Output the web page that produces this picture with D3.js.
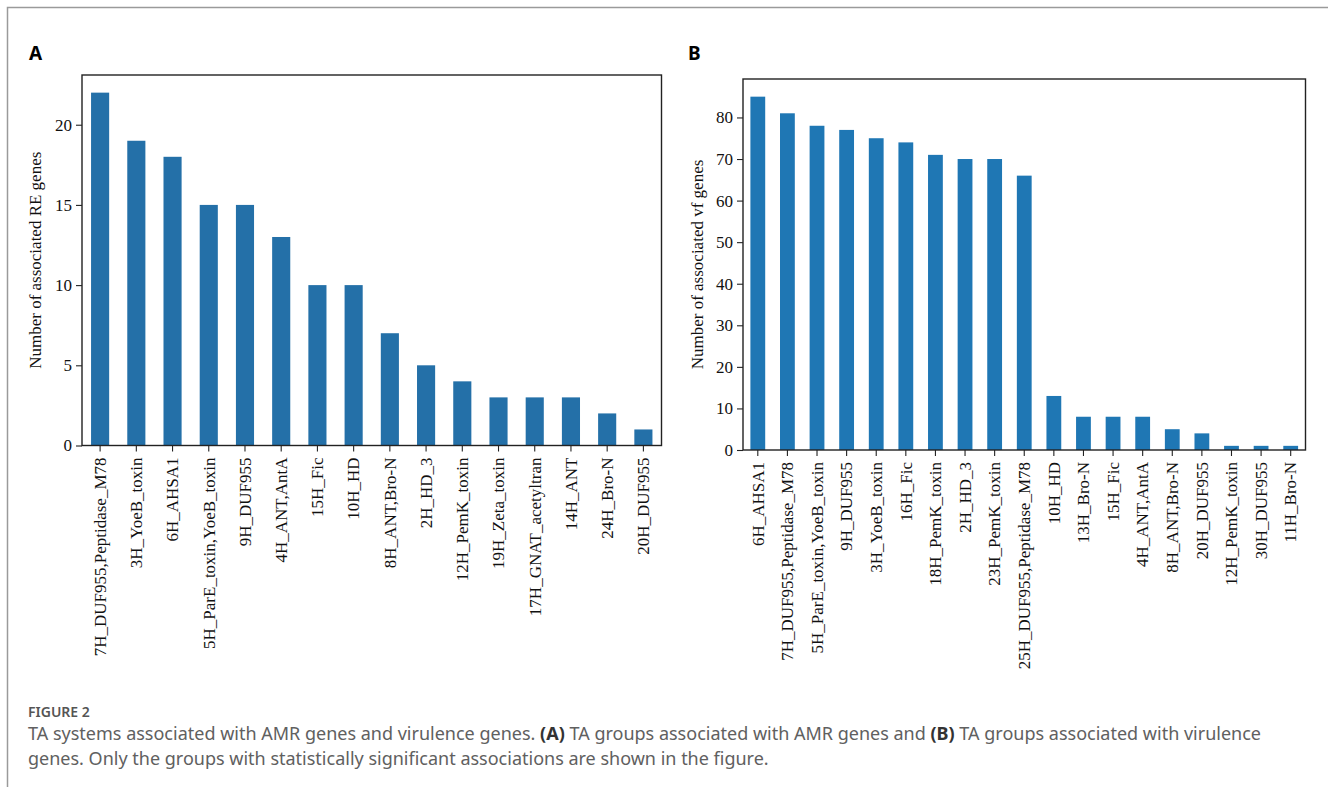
<!DOCTYPE html>
<html>
<head>
<meta charset="utf-8">
<script src="https://cdn.jsdelivr.net/npm/d3@7"></script>
<style>
  body { margin: 0; background: #fff; }
  svg { display: block; }
  .tick text { font-family: "Liberation Serif", "Times New Roman", serif; fill: #111; }
</style>
</head>
<body>
<svg id="fig" width="1328" height="787"></svg>
<script>
// Panel A: TA groups vs antibiotic resistance genes
const groupsA = [
  "7H_DUF955,Peptidase_M78", "3H_YoeB_toxin", "6H_AHSA1", "5H_ParE_toxin,YoeB_toxin",
  "9H_DUF955", "4H_ANT,AntA", "15H_Fic", "10H_HD", "8H_ANT,Bro-N", "2H_HD_3",
  "12H_PemK_toxin", "19H_Zeta_toxin", "17H_GNAT_acetyltran", "14H_ANT", "24H_Bro-N", "20H_DUF955"
];
const countsA = [22, 19, 18, 15, 15, 13, 10, 10, 7, 5, 4, 3, 3, 3, 2, 1];
const ticksA = [0, 5, 10, 15, 20];

// Panel B: TA groups vs virulence factor genes
const groupsB = [
  "6H_AHSA1", "7H_DUF955,Peptidase_M78", "5H_ParE_toxin,YoeB_toxin", "9H_DUF955",
  "3H_YoeB_toxin", "16H_Fic", "18H_PemK_toxin", "2H_HD_3", "23H_PemK_toxin",
  "25H_DUF955,Peptidase_M78", "10H_HD", "13H_Bro-N", "15H_Fic", "4H_ANT,AntA",
  "8H_ANT,Bro-N", "20H_DUF955", "12H_PemK_toxin", "30H_DUF955", "11H_Bro-N"
];
const countsB = [85, 81, 78, 77, 75, 74, 71, 70, 70, 66, 13, 8, 8, 8, 5, 4, 1, 1, 1];
const ticksB = [0, 10, 20, 30, 40, 50, 60, 70, 80];

const svg = d3.select("#fig");
const SERIF = '"Liberation Serif", "Times New Roman", serif';
const SANS = '"Noto Sans", "Open Sans", sans-serif';
const FS = "17px";

// outer page frame (only left + top visible)
svg.append("path")
  .attr("d", "M7.5,787 L7.5,7.5 L1328,7.5")
  .attr("fill", "none")
  .attr("stroke", "#9a9a9a")
  .attr("stroke-width", 1.5);

/**
 * Draws one pandas-style bar panel
 */
function drawPanel(cfg) {
  const { x0, x1, y0, y1, groups, counts, ticks, color, ylabel, letter, letterX, ylabelX } = cfg;

  const x = d3.scaleBand()
    .domain(groups)
    .range([x0, x1])
    .paddingInner(0.5)
    .paddingOuter(0.25);

  const y = d3.scaleLinear()
    .domain([0, d3.max(counts) * 1.05])
    .range([y1, y0]);

  const g = svg.append("g");

  g.selectAll("rect.bar")
    .data(groups)
    .join("rect")
    .attr("class", "bar")
    .attr("x", d => x(d))
    .attr("width", x.bandwidth())
    .attr("y", (d, i) => y(counts[i]))
    .attr("height", (d, i) => y(0) - y(counts[i]))
    .attr("fill", color);

  // y axis
  const ay = g.append("g")
    .attr("transform", `translate(${x0},0)`)
    .call(d3.axisLeft(y).tickValues(ticks).tickSize(6).tickPadding(4).tickFormat(d3.format("d")));
  ay.select(".domain").remove();
  ay.selectAll("text").style("font-size", FS);
  ay.selectAll("line").attr("stroke", "#222").attr("stroke-width", 1.1);

  // x axis, labels rotated
  const ax = g.append("g")
    .attr("transform", `translate(0,${y1})`)
    .call(d3.axisBottom(x).tickSize(6).tickPadding(0));
  ax.select(".domain").remove();
  ax.selectAll("line").attr("stroke", "#222").attr("stroke-width", 1.1);
  ax.selectAll("text")
    .style("font-size", FS)
    .attr("text-anchor", "end")
    .attr("transform", "rotate(-90)")
    .attr("x", -12)
    .attr("y", 0)
    .attr("dy", "0.34em");

  // frame
  g.append("rect")
    .attr("x", x0).attr("y", y0)
    .attr("width", x1 - x0).attr("height", y1 - y0)
    .attr("fill", "none")
    .attr("stroke", "#222")
    .attr("stroke-width", 1.4);

  // y label
  g.append("text")
    .attr("transform", `translate(${ylabelX},${(y0 + y1) / 2}) rotate(-90)`)
    .attr("text-anchor", "middle")
    .style("font-family", SERIF)
    .style("font-size", FS)
    .attr("fill", "#111")
    .text(ylabel);

  // panel letter
  g.append("text")
    .attr("x", letterX).attr("y", 60)
    .style("font-family", SANS)
    .style("font-weight", "700")
    .style("font-size", "19px")
    .attr("fill", "#000")
    .text(letter);
}

drawPanel({
  x0: 82, x1: 661.5, y0: 75, y1: 445.5,
  groups: groupsA, counts: countsA, ticks: ticksA,
  color: "#2470a8",
  ylabel: "Number of associated RE genes",
  letter: "A", letterX: 29, ylabelX: 41
});

drawPanel({
  x0: 743, x1: 1305.5, y0: 79, y1: 450,
  groups: groupsB, counts: countsB, ticks: ticksB,
  color: "#1f77b4",
  ylabel: "Number of associated vf genes",
  letter: "B", letterX: 688, ylabelX: 703
});

// caption
const cap = svg.append("g").style("font-family", SANS).attr("fill", "#606060");
cap.append("text")
  .attr("x", 28).attr("y", 717)
  .style("font-size", "14px")
  .style("font-weight", "600")
  .attr("fill", "#555")
  .text("FIGURE 2");

const line1 = cap.append("text").attr("x", 28).attr("y", 740).style("font-size", "18px");
line1.append("tspan").text("TA systems associated with AMR genes and virulence genes. ");
line1.append("tspan").style("font-weight", "700").attr("fill", "#333").text("(A)");
line1.append("tspan").text(" TA groups associated with AMR genes and ");
line1.append("tspan").style("font-weight", "700").attr("fill", "#333").text("(B)");
line1.append("tspan").text(" TA groups associated with virulence");

cap.append("text").attr("x", 28).attr("y", 765).style("font-size", "18px")
  .text("genes. Only the groups with statistically significant associations are shown in the figure.");
</script>
</body>
</html>
